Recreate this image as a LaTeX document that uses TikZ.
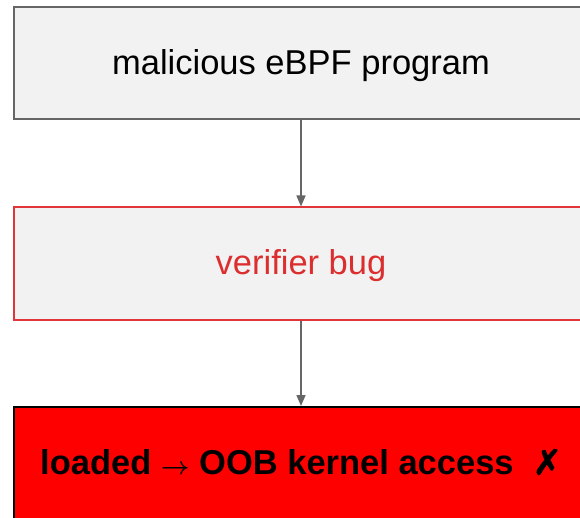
\documentclass[tikz,border=0pt]{standalone}
\usepackage{fontspec}
\setmainfont{Liberation Sans}
\newfontfamily\dejavuheavy[FakeBold=2.5]{DejaVu Sans}
\usetikzlibrary{arrows.meta}
\definecolor{boxfill}{HTML}{F2F2F2}
\definecolor{boxline}{HTML}{666666}
\definecolor{bugred}{HTML}{E0353A}
\definecolor{bugtext}{HTML}{DC2E2E}
\newcommand{\lowered}[2]{\raisebox{-#1}[0pt][0pt]{#2}}
\tikzset{
  stagebox/.style={rectangle, minimum width=575pt, minimum height=112pt, line width=2pt, inner sep=0pt},
  conn/.style={draw=boxline, line width=1.5pt, -{Triangle[length=11pt,width=9pt]}}
}
\begin{document}
\begin{tikzpicture}[x=1pt,y=1pt]
\useasboundingbox (0,0) rectangle (580,517);
\node[stagebox, draw=boxline, fill=boxfill, font=\fontsize{34.5}{40}\selectfont] (a) at (301,453.5) {\lowered{11.5pt}{malicious eBPF program}};
\node[stagebox, draw=bugred, fill=boxfill, text=bugtext, font=\fontsize{34.5}{40}\selectfont] (b) at (301,253.5) {\lowered{10.5pt}{verifier bug}};
\node[stagebox, draw=black, fill=red, font=\fontsize{34.5}{40}\selectfont\bfseries] (c) at (301,54) {\lowered{11.5pt}{loaded {\boldmath$\rightarrow$} OOB kernel access \ {\dejavuheavy ✗}}};
\draw[conn] (a) -- (b);
\draw[conn] (b) -- (c);
\end{tikzpicture}
\end{document}
